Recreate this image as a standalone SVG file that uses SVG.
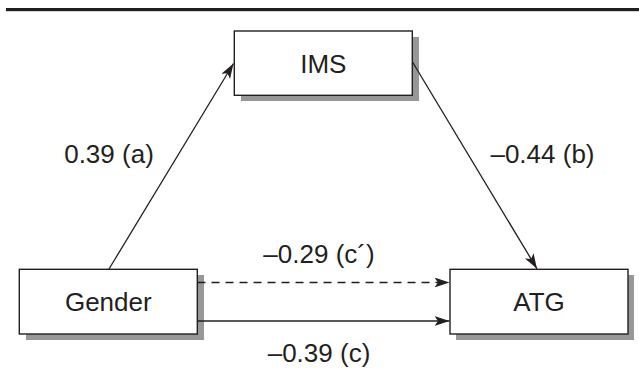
<svg xmlns="http://www.w3.org/2000/svg" width="639" height="369" viewBox="0 0 639 369">
<style>
.box{fill:#fff;stroke:#231f20;stroke-width:1.4}
.shadow{fill:#97979a}
.lbl{font-family:"Liberation Sans",Arial,sans-serif;font-size:26px;fill:#231f20;text-anchor:middle}
.conn{stroke:#231f20;stroke-width:1.3;fill:none}
</style>
<defs>
<marker id="ah" markerUnits="userSpaceOnUse" markerWidth="16" markerHeight="12" refX="15" refY="5" orient="auto">
<path d="M0,0 L15,5 L0,10 L3.5,5 z" fill="#231f20"/>
</marker>
</defs>
<rect x="6" y="8" width="633" height="3.2" fill="#231f20"/>
<g id="node-ims">
<rect class="shadow" x="241" y="37" width="178" height="64"/>
<rect class="box" x="234.3" y="31" width="178" height="64.3"/>
<text class="lbl" x="323.3" y="73.3">IMS</text>
</g>
<g id="node-gender">
<rect class="shadow" x="26" y="275" width="178" height="65"/>
<rect class="box" x="19.3" y="269.3" width="178" height="64.7"/>
<text class="lbl" x="108.3" y="311">Gender</text>
</g>
<g id="node-atg">
<rect class="shadow" x="456" y="275" width="178" height="65"/>
<rect class="box" x="450" y="269.3" width="178" height="64.7"/>
<text class="lbl" x="539" y="311">ATG</text>
</g>
<g id="connectors">
<line class="conn" x1="109" y1="269" x2="233.5" y2="63.5" marker-end="url(#ah)"/>
<line class="conn" x1="412.5" y1="62" x2="537" y2="268.8" marker-end="url(#ah)"/>
<line class="conn" x1="197.5" y1="282.5" x2="449.5" y2="282.5" stroke-dasharray="8 6" marker-end="url(#ah)"/>
<line class="conn" x1="197.5" y1="321" x2="449.5" y2="321" marker-end="url(#ah)"/>
</g>
<g id="labels">
<text class="lbl" x="109" y="163.3">0.39 (a)</text>
<text class="lbl" x="542.5" y="163.3">–0.44 (b)</text>
<text class="lbl" x="319" y="263.3">–0.29 (c´)</text>
<text class="lbl" x="319" y="361.5">–0.39 (c)</text>
</g>
</svg>
